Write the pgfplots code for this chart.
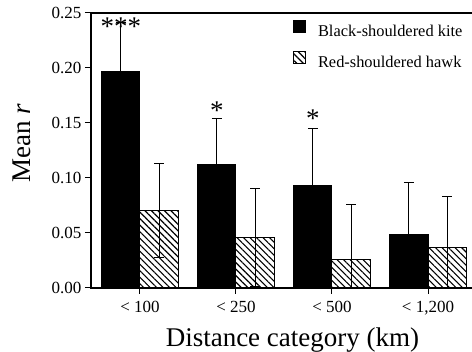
\documentclass[border=0pt]{standalone}
\usepackage{fontspec}
\setmainfont{Liberation Serif}
\usepackage{pgfplots}
\pgfplotsset{compat=1.18}
\usetikzlibrary{patterns.meta}
\begin{document}
\begin{tikzpicture}
\path[use as bounding box] (-91pt,-64pt) rectangle (381pt,288pt);
\begin{axis}[
  scale only axis, width=383pt, height=275pt,
  at={(0pt,0pt)}, anchor=south west,
  xmin=-0.510, xmax=3.479, ymin=0, ymax=0.25,
  xtick={0,1,2,3},
  xticklabels={{< 100},{< 250},{< 500},{< 1,200}},
  ytick={0,0.05,0.10,0.15,0.20,0.25},
  yticklabel style={/pgf/number format/.cd, fixed, fixed zerofill, precision=2},
  /pgf/number format/assume math mode=true,
  tick label style={font=\fontsize{17}{17}\selectfont},
  xticklabel style={yshift=-4pt},
  tick align=outside, tick pos=left,
  major tick length=6pt,
  tick style={black, line width=1pt},
  axis line style={line width=1.3pt},
  xlabel={Distance category (km)},
  xlabel style={font=\fontsize{27}{27}\selectfont, at={(axis description cs:0.526,-0.211)}, anchor=base},
  ylabel={Mean \textit{r}},
  ylabel style={font=\fontsize{27}{27}\selectfont, at={(axis description cs:-0.180,0.527)}, anchor=center, rotate=0},
  legend style={draw=none, fill=none, at={(axis description cs:0.527,0.975)}, anchor=north west,
    font=\fontsize{16.4}{16.4}\selectfont, row sep=11pt, inner sep=0pt,
    nodes={inner xsep=6pt},
    /tikz/every odd column/.append style={column sep=6pt}},
  legend cell align=left,
  legend image code/.code={\draw[#1] (0pt,-0.5pt) rectangle (12pt,11pt);},
  error bars/y dir=both, error bars/y explicit,
  error bars/error bar style={line width=1pt, black, solid},
  error bars/error mark options={rotate=90, mark size=5pt, line width=1pt, black, solid},
]
\addplot[ybar, bar width=0.4, bar shift=0, fill=black, draw=black, line width=1pt]
  coordinates {(-0.2,0.197) +- (0,0.044) (0.8,0.112) +- (0,0.0425) (1.8,0.0936) +- (0,0.0514) (2.8,0.049) +- (0,0.0465)};
\addlegendentry{Black-shouldered kite}
\addplot[ybar, bar width=0.4, bar shift=0, fill=white, draw=black, line width=1pt,
  postaction={pattern={Lines[angle=-45, distance=4.6pt, line width=1.1pt]}}]
  coordinates {(0.2,0.0705) +- (0,0.0425) (1.2,0.0455) +- (0,0.0445) (2.2,0.026) +- (0,0.0495) (3.2,0.037) +- (0,0.046)};
\addlegendentry{Red-shouldered hawk}
\node[anchor=north, inner sep=0pt, font=\fontsize{27}{27}\selectfont] at (axis cs:-0.2,0.2455) {***};
\node[anchor=north, inner sep=0pt, font=\fontsize{27}{27}\selectfont] at (axis cs:0.8,0.169) {*};
\node[anchor=north, inner sep=0pt, font=\fontsize{27}{27}\selectfont] at (axis cs:1.8,0.162) {*};
\end{axis}
\end{tikzpicture}
\end{document}
